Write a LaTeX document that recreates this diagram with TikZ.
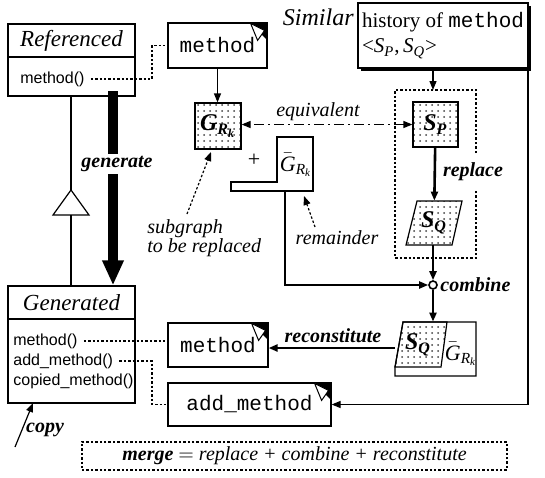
\documentclass[tikz,border=0pt]{standalone}
\usepackage{fontspec}
\usepackage{amsmath}
\setmainfont{Liberation Serif}
\setsansfont{Liberation Sans}
\setmonofont{Liberation Mono}
\usetikzlibrary{arrows.meta,patterns,shadows}
\newcommand{\bfit}[1]{\textbf{\textit{#1}}}
\newcommand{\Gbar}{$\bar{\textit{G}}_{\textit{R}_{\textit{k}}}$}
\newcommand{\dogear}[1]{%
  \fill ([shift={(-18,0)}]#1.north east) -- (#1.north east) -- ([shift={(0,18)}]#1.north east) -- cycle;
  \draw[fill=white,line width=0.5pt] ([shift={(-17,1)}]#1.north east) -- ([shift={(-3,8)}]#1.north east) -- ([shift={(-10,18)}]#1.north east) -- cycle;}
\begin{document}
\begin{tikzpicture}[x=0.5pt,y=-0.5pt,
        >={Triangle[length=4.5pt,width=3.5pt]},
        box/.style={draw,line width=0.6pt,inner sep=0pt,fill=white},
        note/.style={box,font=\fontsize{10.5}{12}\selectfont\ttfamily},
        title/.style={box,minimum width=63.5pt,minimum height=16.5pt,
            font=\fontsize{11.5}{12}\selectfont\itshape},
        op/.style={font=\sffamily\fontsize{8}{9}\selectfont,inner sep=0pt,anchor=west},
        lbl/.style={font=\fontsize{10}{11}\selectfont\bfseries\itshape,inner sep=1pt},
        itl/.style={font=\fontsize{10}{11}\selectfont\itshape,inner sep=1pt},
        dotfill/.style={pattern=dots,pattern color=black!75},
        graph/.style={draw,line width=0.6pt,inner sep=0pt,dotfill,
            font=\fontsize{12}{12}\selectfont},
        link/.style={dash pattern=on 1.2pt off 1pt,line width=0.6pt},
        flow/.style={->,line width=1.3pt},
        line/.style={->,line width=0.6pt}]
\useasboundingbox (0,0) rectangle (545,477);

\node[title] (reftitle) at (71.5,40.5) {Referenced};
\node[box,minimum width=63.5pt,minimum height=19.5pt] (refbody) at (71.5,76.5) {};
\node[op] (refm) at (20,79) {method()};

\node[title] (gentitle) at (71.5,302.5) {Generated};
\node[box,minimum width=63.5pt,minimum height=42pt] (genbody) at (71.5,361) {};
\node[op] (genm1) at (13,341) {method()};
\node[op] (genm2) at (13,361) {add\_method()};
\node[op] (genm3) at (13,381) {copied\_method()};

\node[note,minimum width=49.5pt,minimum height=22.5pt] (note1) at (217.5,45.5) {method};
\node[note,minimum width=50pt,minimum height=22pt] (note2) at (218,345) {method};
\node[note,minimum width=81.5pt,minimum height=21.5pt] (note3) at (249.5,404.5) {add\_method};
\dogear{note1}
\dogear{note2}
\dogear{note3}

\node[box,drop shadow={shadow xshift=1.5pt,shadow yshift=-1.5pt,fill=black,opacity=1},
    minimum width=85pt,minimum height=32.5pt,align=left,
    font=\fontsize{10.5}{12.5}\selectfont] (hist) at (443,35.5)
    {history of \texttt{method}\\<\textit{S}$_{\textit{P}}$,\,\textit{S}$_{\textit{Q}}$>};
\node[font=\fontsize{12}{12}\selectfont\itshape,anchor=east,inner sep=1pt] (sim) at (356,17) {Similar};

\node[graph,minimum size=23pt] (grk) at (218,126) {$\bfit{G}_{\bfit{R}_{\bfit{k}}}$};
\node[graph,minimum size=22.5pt] (sp) at (435.5,124.5) {$\bfit{S}_{\bfit{P}}$};
\draw[line width=0.6pt,dotfill] (417,201) -- (462,201) -- (452,245) -- (406,245) -- cycle;
\node[minimum width=22.5pt,minimum height=22pt,inner sep=0pt,font=\fontsize{12}{12}\selectfont]
    (sq) at (434,223) {$\bfit{S}_{\bfit{Q}}$};
\draw[dash pattern=on 1.2pt off 1pt,line width=0.7pt] (476,153) -- (476,90) -- (395,90)
    -- (395,258) -- (476,258) -- (476,191);

\draw[line width=0.6pt] (277,137) -- (313,137) -- (313,191) -- (231,191) -- (231,182)
    -- (277,182) -- cycle;
\node[font=\fontsize{11}{12}\selectfont,inner sep=0pt] (rem) at (296,165) {\Gbar};
\node[font=\fontsize{11}{12}\selectfont,inner sep=0pt] (plus) at (254,160) {+};
\coordinate (remout) at (285,191);

\node[draw,circle,minimum size=4pt,inner sep=0pt,line width=0.8pt,fill=white] (cmb) at (433,285) {};

\node[minimum width=40.5pt,minimum height=27pt,inner sep=0pt] (mix) at (435.5,349) {};
\draw[line width=0.6pt] (403,322) -- (476,322) -- (476,376) -- (395,376) -- (395,367) -- cycle;
\draw[line width=0.6pt,dotfill] (403,322) -- (447,322) -- (441,367) -- (395,367) -- cycle;
\node[font=\fontsize{12}{12}\selectfont,inner sep=0pt] (mixq) at (418,345) {$\bfit{S}_{\bfit{Q}}$};
\node[font=\fontsize{11}{12}\selectfont,inner sep=0pt] (mixg) at (461,354) {\Gbar};

\node[lbl] (gen) at (117,164) {generate};
\coordinate (g0) at (113,91);
\draw[line width=5pt] (g0) -- (g0 |- gen.north);
\draw[line width=5pt,-{Triangle[length=12.5pt,width=10pt]}] (g0 |- gen.south)
    -- (g0 |- gentitle.north);

\coordinate (apex) at (71,190);
\coordinate (base) at (71,215);
\draw[line width=0.6pt] (refbody.south -| apex) -- (apex);
\draw[line width=0.6pt] (apex) -- (89,215) -- (53,215) -- cycle;
\draw[line width=0.6pt] (base) -- (gentitle.north -| base);

\coordinate (k1) at (152,0);
\draw[link,shorten <=3pt] (refm.east) -| (k1 |- note1.west) -- (note1.west);
\draw[link,shorten <=3pt] (genm1.east) -- (genm1.east -| note2.west);
\draw[link,shorten <=3pt] (genm2.east) -| (k1 |- note3.west) -- (note3.west);

\draw[line] (note1.south) -- (note1.south |- grk.north);
\coordinate (dtop) at (433,90);
\draw[line] (hist.south -| dtop) -- (dtop);
\draw[<->,dash pattern=on 5pt off 2pt on 1pt off 2pt,line width=0.6pt] (sp.west) -- (sp.west -| grk.east);
\node[itl] (eqv) at (318,112) {equivalent};

\draw[flow] (sp) -- (sq);
\node[lbl] (rpl) at (473,172) {replace};
\draw[flow] (sq.south -| cmb) -- (cmb);
\draw[flow] (cmb) -- (cmb |- mix.north);
\node[lbl,anchor=west] (cmbl) at (438,285) {combine};
\draw[->,line width=1pt] (remout) |- (cmb);

\coordinate (mixw) at (395,348);
\draw[flow] (mixw) -- (mixw -| note2.east);
\node[lbl] (rcs) at (333,336) {reconstitute};

\coordinate (rt) at (528,0);
\draw[line] (hist.south -| rt) |- (note3.east);

\node[itl,align=left,anchor=west,font=\fontsize{10}{9.5}\selectfont\itshape] (sub) at (145,238)
    {subgraph\\to be replaced};
\coordinate (s0) at (187,214);
\coordinate (s1) at (211,152);
\draw[link,->] (s0) -- (s1);
\node[itl] (rml) at (337,238) {remainder};
\coordinate (r0) at (315,227);
\coordinate (r1) at (304,196);
\draw[link,->] (r0) -- (r1);

\coordinate (cp) at (15,447);
\coordinate (cpe) at (33,403);
\draw[line] (cp) -- (cpe);
\node[lbl] (cpl) at (45,430) {copy};

\node[draw,link,minimum width=212.5pt,minimum height=14pt,inner sep=0pt,
    font=\fontsize{10}{11}\selectfont\itshape] (mrg) at (294.5,456)
    {\textbf{merge} $=$ replace + combine + reconstitute};
\end{tikzpicture}
\end{document}
